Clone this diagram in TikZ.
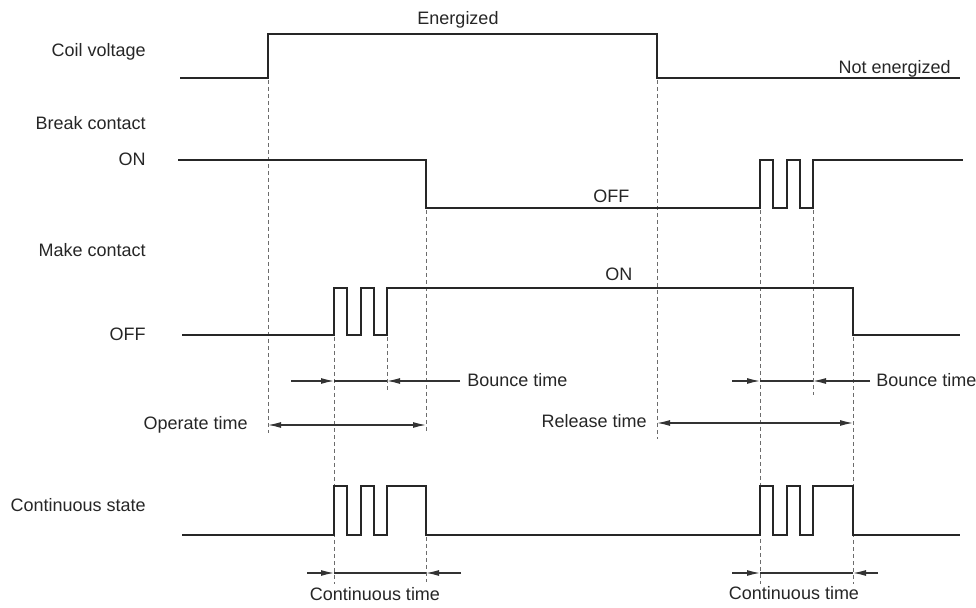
\documentclass[tikz,border=0pt]{standalone}
\usepackage{fontspec}
\setmainfont{Liberation Sans}
\usetikzlibrary{arrows.meta}

\tikzset{
  sig/.style={line width=1.2pt,black!85,line join=miter},
  guide/.style={gray!85!black,line width=0.45pt,dash pattern=on 2pt off 1.5pt},
  span/.style={gray!40!black,line width=0.6pt},
  lbl/.style={anchor=base east,inner sep=0pt,text=black!85},
  tag/.style={inner sep=0pt,text=black!85},
}

\begin{document}
\begin{tikzpicture}[x=0.5pt,y=-0.5pt,>={Latex[length=6.5pt,width=3pt]},font=\fontsize{9}{11}\selectfont]
 \useasboundingbox (0,0) rectangle (976,608);
 % guide lines at the switching instants
 \draw[guide] (268,80) -- (268,433) (657,80) -- (657,439);
 \draw[guide] (426,210) -- (426,432) (426,537) -- (426,582);
 \draw[guide] (334,337) -- (334,584) (387,337) -- (387,392);
 \draw[guide] (760,210) -- (760,584) (813,210) -- (813,395);
 \draw[guide] (853,337) -- (853,584);
 % waveforms
 \draw[sig] (180,78) -| (268,34) -| (657,78) -- (960,78);
 \draw[sig] (178,160) -| (426,208) -| (760,160) -| (773,208) -| (787,160) -| (800,208) -| (813,160) -- (963,160);
 \draw[sig] (182,335) -| (334,288) -| (347,335) -| (361,288) -| (374,335) -| (387,288) -| (853,335) -- (960,335);
 \draw[sig] (182,535) -| (334,486) -| (347,535) -| (361,486) -| (374,535) -| (387,486) -| (426,535)
   -| (760,486) -| (773,535) -| (787,486) -| (800,535) -| (813,486) -| (853,535) -- (960,535);
 % time spans: arrows pointing in from outside, joined across
 \draw[span] (334,381) -- (387,381) (760,381) -- (813,381) (334,573) -- (426,573) (760,573) -- (853,573);
 \draw[span,->] (291,381) -- (334,381);
 \draw[span,->] (460,381) -- (387,381);
 \draw[span,->] (732,381) -- (760,381);
 \draw[span,->] (870,381) -- (813,381);
 \draw[span,<->] (268,425) -- (426,425);
 \draw[span,<->] (657,423) -- (853,423);
 \draw[span,->] (307,573) -- (334,573);
 \draw[span,->] (461,573) -- (426,573);
 \draw[span,->] (732,573) -- (760,573);
 \draw[span,->] (878,573) -- (853,573);
 % labels
 \node[lbl] (coil) at (146,57) {Coil voltage};
 \node[lbl] (brk) at (146,130) {Break contact};
 \node[lbl] (brkon) at (146,166) {ON};
 \node[lbl] (mk) at (146,257) {Make contact};
 \node[lbl] (mkoff) at (146,341) {OFF};
 \node[lbl] (cont) at (146,512) {Continuous state};
 \node[tag,anchor=base] (energ) at (458,25) {Energized};
 \node[tag,anchor=base east] (notenerg) at (951,74) {Not energized};
 \node[tag,anchor=base west] (brkoff) at (593,203) {OFF};
 \node[tag,anchor=base west] (mkon) at (605,281) {ON};
 \node[tag,anchor=base west] (bnc1) at (467,387) {Bounce time};
 \node[tag,anchor=base west] (bnc2) at (876,387) {Bounce time};
 \node[tag,anchor=base east] (optime) at (248,430) {Operate time};
 \node[tag,anchor=base east] (reltime) at (647,428) {Release time};
 \node[tag,anchor=base] (ct1) at (375,601) {Continuous time};
 \node[tag,anchor=base] (ct2) at (794,600) {Continuous time};
\end{tikzpicture}
\end{document}
